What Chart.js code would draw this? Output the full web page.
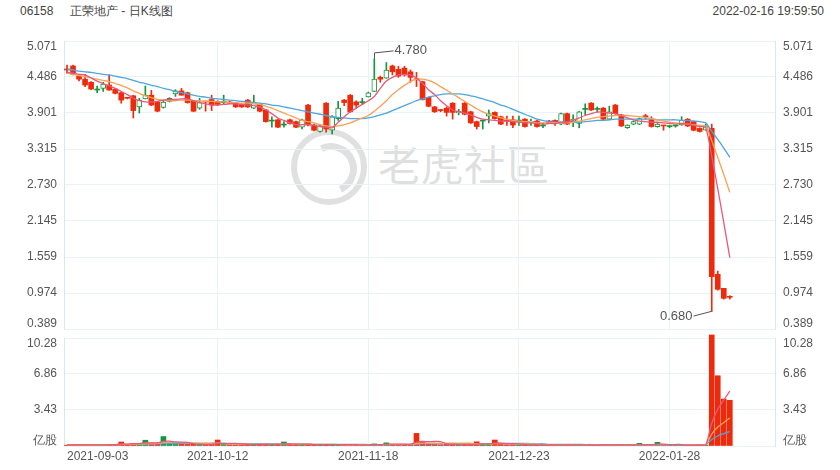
<!DOCTYPE html>
<html><head><meta charset="utf-8">
<script src="https://cdn.jsdelivr.net/npm/chart.js@4/dist/chart.umd.min.js"></script>
<style>
html,body{margin:0;padding:0;background:#fff;width:840px;height:470px;overflow:hidden;}
#wrap{position:relative;width:840px;height:470px;font-family:"Liberation Sans",Arial,sans-serif;}
.hdr{position:absolute;top:4px;font-size:12px;line-height:14px;color:#444;white-space:nowrap;}
#logo{position:absolute;left:291px;top:129px;width:64px;height:64px;border:6px solid #e0e0e0;border-radius:50%;}
#logo:after{content:"";position:absolute;left:8px;top:8px;width:38px;height:38px;border:7px solid #e0e0e0;border-color:#e0e0e0 #e0e0e0 transparent transparent;border-radius:50%;transform:rotate(20deg);}
#wm{position:absolute;left:378px;top:142px;font-family:"Noto Sans CJK TC","Noto Sans CJK SC",sans-serif;font-size:42px;line-height:42px;color:#dfdfdf;letter-spacing:1px;}
canvas{position:absolute;left:0;}
</style></head><body>
<div id="wrap">
  <div class="hdr" style="left:20px">06158</div>
  <div class="hdr" style="left:70px">正荣地产 - 日K线图</div>
  <div class="hdr" style="right:16px">2022-02-16 19:59:50</div>
  <div id="logo"></div>
  <div id="wm">老虎社區</div>
  <canvas id="price" width="840" height="360" style="top:0"></canvas>
  <canvas id="vol" width="840" height="160" style="top:310px"></canvas>
</div>
<script>
// ---- data ----
const tickDates = ['2021-09-03','2021-10-12','2021-11-18','2021-12-23','2022-01-28'];
const tickSlots = [0,25,50,75,100];
const totalSlots = 118;
const priceTicks = [0.389,0.974,1.559,2.145,2.730,3.315,3.901,4.486,5.071];
const priceTickLabels = ['0.389','0.974','1.559','2.145','2.730','3.315','3.901','4.486','5.071'];
const volTicks = [0,3.43,6.86,10.28];
const volTickLabels = ['亿股','3.43','6.86','10.28'];

const open = [
4.601,4.665,4.50,4.45,4.40,4.274,4.30,4.355,4.29,4.23,
4.141,4.18,4.00,4.13,4.19,4.08,3.99,4.09,4.21,4.26,
4.23,4.10,3.98,4.081,4.12,4.09,4.069,4.08,4.06,4.03,
4.11,3.98,4.04,3.95,3.769,3.79,3.704,3.79,3.76,3.67,
4.03,3.705,3.60,4.06,3.62,3.81,4.11,4.19,4.08,4.069,
4.16,4.25,4.48,4.465,4.665,4.61,4.63,4.57,4.441,4.41,
4.155,4.00,3.941,3.98,4.06,3.90,4.06,3.92,3.76,3.769,
3.85,3.91,3.84,3.771,3.79,3.769,3.80,3.75,3.77,3.689,
3.77,3.78,3.72,3.89,3.76,3.73,3.959,4.06,3.959,3.98,
3.80,4.03,3.87,3.66,3.72,3.72,3.841,3.79,3.68,3.691,
3.679,3.689,3.705,3.80,3.76,3.65,3.62,3.65,1.278,1.05,
0.905];
const high = [
4.68,4.68,4.53,4.53,4.41,4.34,4.40,4.52,4.30,4.24,
4.15,4.19,4.14,4.34,4.27,4.09,4.09,4.15,4.28,4.30,
4.24,4.10,4.14,4.09,4.19,4.10,4.19,4.09,4.07,4.04,
4.12,4.19,4.05,3.96,3.84,3.80,3.76,3.80,3.77,3.80,
4.04,3.72,3.70,4.07,3.86,4.09,4.12,4.20,4.10,4.14,
4.24,4.78,4.50,4.72,4.68,4.66,4.66,4.60,4.56,4.42,
4.16,4.01,3.96,4.00,4.07,3.96,4.07,3.93,3.77,3.78,
3.95,3.92,3.85,3.85,3.85,3.85,3.81,3.80,3.78,3.74,
3.78,3.79,3.90,3.90,3.87,3.93,4.05,4.07,4.00,3.99,
4.01,4.04,3.88,3.71,3.77,3.82,3.88,3.84,3.73,3.70,
3.70,3.70,3.84,3.81,3.77,3.66,3.72,3.72,1.33,1.05,
0.93];
const low = [
4.55,4.52,4.42,4.33,4.28,4.23,4.25,4.27,4.21,4.06,
4.13,3.82,3.90,4.13,4.02,3.92,3.98,4.08,4.17,4.19,
4.06,3.92,3.96,3.93,3.94,4.02,4.05,4.05,3.99,3.99,
3.99,3.97,3.92,3.75,3.67,3.66,3.67,3.72,3.66,3.64,
3.69,3.61,3.59,3.59,3.56,3.78,4.02,3.91,3.99,4.05,
4.16,4.25,4.40,4.465,4.52,4.48,4.50,4.40,4.33,4.11,
4.00,3.91,3.92,3.85,3.80,3.87,3.87,3.73,3.64,3.64,
3.74,3.80,3.71,3.70,3.66,3.70,3.67,3.70,3.67,3.66,
3.73,3.70,3.71,3.71,3.68,3.66,3.87,3.94,3.91,3.79,
3.79,3.88,3.68,3.65,3.71,3.71,3.80,3.67,3.67,3.62,
3.66,3.67,3.70,3.68,3.61,3.59,3.62,0.68,1.02,0.875,
0.875];
const close = [
4.60,4.53,4.45,4.355,4.29,4.275,4.37,4.274,4.22,4.11,
4.14,3.94,4.11,4.19,4.03,3.93,4.08,4.14,4.26,4.19,
4.07,3.93,4.07,4.08,4.03,4.04,4.07,4.06,4.00,4.00,
4.00,4.08,3.93,3.76,3.77,3.67,3.705,3.73,3.67,3.79,
3.705,3.62,3.69,3.64,3.84,3.98,4.07,3.92,4.03,4.07,
4.23,4.45,4.45,4.60,4.57,4.50,4.52,4.48,4.44,4.12,
4.01,3.92,3.94,3.91,3.91,3.93,3.88,3.74,3.68,3.77,
3.89,3.81,3.72,3.77,3.705,3.77,3.68,3.77,3.68,3.69,
3.74,3.74,3.89,3.72,3.80,3.92,3.96,3.95,3.96,3.80,
3.92,3.89,3.69,3.705,3.76,3.81,3.84,3.68,3.72,3.69,
3.68,3.69,3.78,3.69,3.62,3.60,3.68,1.24,1.034,0.888,
0.904];
const ma5 = [
4.56,4.55,4.53,4.52,4.47,4.42,4.38,4.34,4.30,4.25,
4.20,4.14,4.10,4.08,4.08,4.09,4.11,4.12,4.12,4.13,
4.13,4.10,4.07,4.05,4.03,4.03,4.04,4.05,4.05,4.04,
4.03,4.02,4.00,3.95,3.89,3.82,3.78,3.74,3.71,3.71,
3.71,3.70,3.68,3.67,3.66,3.75,3.84,3.92,3.98,4.04,
4.10,4.17,4.30,4.42,4.48,4.52,4.53,4.52,4.47,4.38,
4.28,4.20,4.10,4.02,3.95,3.92,3.90,3.87,3.83,3.80,
3.79,3.78,3.77,3.77,3.76,3.75,3.74,3.74,3.73,3.72,
3.73,3.73,3.75,3.75,3.78,3.82,3.86,3.89,3.92,3.91,
3.90,3.89,3.86,3.82,3.79,3.77,3.76,3.75,3.75,3.74,
3.73,3.72,3.73,3.72,3.70,3.68,3.66,3.20,2.67,2.12,
1.55];
const ma10 = [
4.55,4.53,4.51,4.49,4.47,4.45,4.43,4.41,4.38,4.35,
4.31,4.26,4.22,4.18,4.15,4.12,4.11,4.10,4.10,4.11,
4.11,4.10,4.10,4.09,4.09,4.08,4.08,4.07,4.07,4.06,
4.06,4.05,4.04,4.01,3.98,3.94,3.90,3.86,3.82,3.78,
3.76,3.74,3.71,3.69,3.68,3.69,3.71,3.74,3.78,3.82,
3.86,3.93,4.01,4.10,4.20,4.28,4.35,4.41,4.45,4.45,
4.43,4.39,4.33,4.27,4.21,4.15,4.09,4.03,3.97,3.92,
3.88,3.85,3.82,3.80,3.78,3.77,3.76,3.75,3.74,3.74,
3.74,3.74,3.74,3.74,3.75,3.77,3.79,3.81,3.83,3.84,
3.85,3.86,3.86,3.86,3.85,3.84,3.83,3.81,3.79,3.77,
3.75,3.74,3.73,3.72,3.71,3.70,3.69,3.45,3.18,2.90,
2.61];
const ma20 = [
4.61,4.60,4.58,4.57,4.56,4.545,4.53,4.52,4.50,4.48,
4.46,4.43,4.40,4.38,4.35,4.33,4.30,4.28,4.25,4.23,
4.21,4.19,4.17,4.16,4.14,4.13,4.12,4.11,4.10,4.09,
4.08,4.07,4.06,4.05,4.03,4.02,4.00,3.98,3.96,3.94,
3.92,3.90,3.88,3.86,3.84,3.83,3.82,3.81,3.81,3.81,
3.82,3.84,3.87,3.90,3.94,3.98,4.02,4.06,4.10,4.13,
4.16,4.18,4.20,4.21,4.21,4.21,4.20,4.18,4.16,4.13,
4.10,4.07,4.03,4.00,3.96,3.92,3.88,3.84,3.80,3.78,
3.76,3.75,3.75,3.75,3.75,3.75,3.76,3.77,3.78,3.78,
3.79,3.80,3.80,3.80,3.80,3.80,3.80,3.80,3.79,3.79,
3.79,3.79,3.78,3.78,3.77,3.76,3.74,3.60,3.47,3.33,
3.18];
const vol = [
0.08,0.10,0.12,0.10,0.12,0.10,0.12,0.15,0.12,0.38,
0.15,0.25,0.20,0.55,0.30,0.25,0.90,0.35,0.15,0.20,
0.15,0.20,0.15,0.12,0.15,0.57,0.15,0.12,0.10,0.12,
0.15,0.15,0.12,0.20,0.12,0.15,0.38,0.12,0.15,0.12,
0.15,0.12,0.10,0.15,0.12,0.15,0.10,0.12,0.10,0.10,
0.12,0.20,0.15,0.30,0.15,0.12,0.15,0.15,1.20,0.45,
0.20,0.15,0.12,0.15,0.12,0.10,0.15,0.12,0.40,0.15,
0.12,0.57,0.15,0.12,0.12,0.10,0.12,0.10,0.10,0.08,
0.10,0.10,0.12,0.10,0.08,0.10,0.10,0.10,0.08,0.10,
0.10,0.10,0.12,0.08,0.08,0.25,0.08,0.10,0.35,0.10,
0.08,0.08,0.10,0.10,0.10,0.10,0.10,10.57,6.69,4.47,
4.35];
const vma5 = [
0.10,0.10,0.10,0.10,0.10,0.11,0.11,0.12,0.12,0.17,
0.18,0.21,0.22,0.31,0.29,0.31,0.44,0.47,0.39,0.37,
0.35,0.21,0.17,0.16,0.15,0.24,0.23,0.22,0.22,0.21,
0.13,0.13,0.13,0.15,0.15,0.15,0.19,0.19,0.18,0.18,
0.18,0.13,0.13,0.13,0.13,0.13,0.13,0.13,0.12,0.11,
0.11,0.13,0.13,0.17,0.18,0.18,0.17,0.17,0.35,0.43,
0.42,0.43,0.42,0.21,0.15,0.13,0.13,0.13,0.18,0.19,
0.19,0.27,0.28,0.22,0.22,0.21,0.12,0.11,0.11,0.10,
0.10,0.10,0.10,0.10,0.10,0.10,0.10,0.10,0.09,0.10,
0.10,0.10,0.10,0.10,0.10,0.13,0.13,0.13,0.17,0.18,
0.14,0.14,0.14,0.09,0.09,0.10,0.10,2.17,3.50,4.38,
5.23];
const vma10 = [
0.12,0.12,0.12,0.12,0.12,0.12,0.12,0.12,0.12,0.14,
0.15,0.16,0.17,0.21,0.23,0.24,0.32,0.34,0.34,0.33,
0.31,0.30,0.26,0.26,0.24,0.27,0.20,0.19,0.18,0.17,
0.17,0.17,0.16,0.17,0.16,0.15,0.17,0.17,0.16,0.16,
0.16,0.16,0.16,0.15,0.15,0.14,0.12,0.12,0.12,0.12,
0.12,0.13,0.13,0.14,0.15,0.15,0.15,0.15,0.24,0.27,
0.28,0.28,0.28,0.28,0.28,0.28,0.27,0.27,0.19,0.19,
0.18,0.22,0.22,0.22,0.22,0.21,0.20,0.19,0.15,0.14,
0.11,0.11,0.11,0.10,0.10,0.10,0.10,0.10,0.10,0.10,
0.10,0.10,0.10,0.10,0.10,0.11,0.11,0.11,0.14,0.14,
0.13,0.13,0.13,0.13,0.13,0.12,0.12,1.14,1.80,2.24,
2.66];
const vma20 = [
0.14,0.14,0.14,0.14,0.14,0.14,0.14,0.14,0.14,0.15,
0.15,0.16,0.16,0.18,0.19,0.20,0.23,0.24,0.24,0.24,
0.24,0.25,0.25,0.25,0.26,0.28,0.26,0.25,0.24,0.23,
0.23,0.23,0.22,0.21,0.21,0.20,0.19,0.19,0.18,0.18,
0.17,0.16,0.16,0.16,0.16,0.16,0.15,0.15,0.15,0.15,
0.14,0.14,0.14,0.14,0.14,0.14,0.14,0.14,0.19,0.21,
0.21,0.21,0.21,0.21,0.22,0.22,0.22,0.22,0.23,0.23,
0.22,0.24,0.24,0.24,0.24,0.24,0.24,0.23,0.21,0.21,
0.16,0.15,0.15,0.15,0.15,0.15,0.14,0.14,0.12,0.12,
0.11,0.11,0.11,0.10,0.10,0.11,0.11,0.11,0.12,0.12,
0.12,0.12,0.12,0.12,0.12,0.12,0.12,0.62,0.95,1.17,
1.38];

// ---- styling ----
const RED = '#ee2a0c', GREEN = '#13963c';
const PINK = '#e8587d', ORANGE = '#f7a253', BLUE = '#4ea6de';
const GRID = '#e8f2f8', BORDER = '#d8e8f2', TICK = '#555';
const FONT = {family:'"Liberation Sans", Arial, sans-serif', size:12};
const slots = Array.from({length: totalSlots}, (_, i) => i);
const isUp = i => close[i] > open[i];
const cColor = i => isUp(i) ? GREEN : RED;
const hollow = i => isUp(i) && Math.abs(close[i] - open[i]) > 0.01;
const idx = open.map((_, i) => i);

const xGrid = {
  offset: false, drawTicks: false,
  color: c => (tickSlots.indexOf(c.index) > 0 ? GRID : 'rgba(0,0,0,0)')
};
function shiftEnds(labels){
  return (v, i, arr) => {
    const t = labels[i];
    if (i === arr.length - 1) return ['', t];
    if (i === 0) return [t, ''];
    return t;
  };
}
function yAxis(pos, vals, labels, min, max, grid){
  return {
    position: pos, min, max,
    afterBuildTicks: s => { s.ticks = vals.map(v => ({value: v})); },
    afterFit: s => { s.width = pos === 'left' ? 64 : 65; },
    ticks: {color: TICK, font: Object.assign({}, FONT, {lineHeight: 0.9}), padding: pos === 'left' ? 7 : 8,
            callback: shiftEnds(labels), autoSkip: false},
    grid: grid ? {color: GRID, drawTicks: false} : {drawOnChartArea: false, drawTicks: false},
    border: {color: BORDER}
  };
}

const marks = {
  id: 'marks',
  afterDatasetsDraw(chart){
    const {ctx, scales: {x, y}} = chart;
    const hi = Math.max(...high), lo = Math.min(...low);
    const hiI = high.indexOf(hi), loI = low.indexOf(lo);
    ctx.save();
    ctx.strokeStyle = '#555'; ctx.fillStyle = '#555'; ctx.lineWidth = 1;
    ctx.font = '13px "Liberation Sans", Arial, sans-serif';
    ctx.textBaseline = 'middle';
    let px = Math.round(x.getPixelForValue(hiI)) + 0.5, py = y.getPixelForValue(hi);
    ctx.beginPath(); ctx.moveTo(px, py); ctx.lineTo(px, py - 6); ctx.lineTo(px + 19, py - 8); ctx.stroke();
    ctx.textAlign = 'left'; ctx.fillText(hi.toFixed(3), px + 20, py - 8);
    px = Math.round(x.getPixelForValue(loI)) + 0.5; py = y.getPixelForValue(lo);
    ctx.beginPath(); ctx.moveTo(px, py); ctx.lineTo(px - 19, py + 5); ctx.stroke();
    ctx.textAlign = 'right'; ctx.fillText(lo.toFixed(3), px - 20, py + 5);
    ctx.restore();
  }
};

const lineDs = (label, data, color) => ({type: 'line', label, data, borderColor: color, borderWidth: 1.3,
  pointRadius: 0, tension: 0.25, order: 1, yAxisID: 'y'});

new Chart(document.getElementById('price'), {
  type: 'bar',
  data: {
    labels: slots,
    datasets: [
      lineDs('MA5', ma5, PINK), lineDs('MA10', ma10, ORANGE), lineDs('MA20', ma20, BLUE),
      {label: 'body', data: idx.map(i => [open[i], close[i]]), yAxisID: 'y',
       backgroundColor: idx.map(i => hollow(i) ? '#ffffff' : cColor(i)),
       borderColor: idx.map(i => cColor(i)), borderWidth: idx.map(i => hollow(i) ? 1 : 0),
       borderSkipped: false, barThickness: 5, minBarLength: 1, grouped: false, order: 2},
      {label: 'wick', data: idx.map(i => [low[i], high[i]]), yAxisID: 'y',
       backgroundColor: idx.map(i => cColor(i)), barThickness: 1, grouped: false, order: 3}
    ]
  },
  options: {
    responsive: false, animation: false, devicePixelRatio: 1,
    layout: {padding: {top: 41, bottom: 31, left: 0, right: 0}},
    plugins: {legend: {display: false}, tooltip: {enabled: false}},
    scales: {
      x: {type: 'category', offset: true, grid: xGrid, border: {display: false},
          ticks: {display: false, autoSkip: false}, afterFit: s => { s.height = 0; }},
      y: yAxis('left', priceTicks, priceTickLabels, 0.389, 5.071, true),
      y2: yAxis('right', priceTicks, priceTickLabels, 0.389, 5.071, false)
    }
  },
  plugins: [marks]
});

const vLine = (label, data, color) => ({type: 'line', label, data, borderColor: color, borderWidth: 1.3,
  pointRadius: 0, tension: 0.25, order: 1, yAxisID: 'y'});

new Chart(document.getElementById('vol'), {
  type: 'bar',
  data: {
    labels: slots,
    datasets: [
      vLine('VMA5', vma5, PINK), vLine('VMA10', vma10, ORANGE), vLine('VMA20', vma20, BLUE),
      {label: 'vol', data: vol, yAxisID: 'y', backgroundColor: idx.map(i => cColor(i)),
       barThickness: 5, grouped: false, order: 2, clip: false}
    ]
  },
  options: {
    responsive: false, animation: false, devicePixelRatio: 1,
    layout: {padding: {top: 28, bottom: 0, left: 0, right: 0}},
    plugins: {legend: {display: false}, tooltip: {enabled: false}},
    scales: {
      x: {type: 'category', offset: true, grid: xGrid, border: {display: false},
          afterFit: s => { s.height = 24; },
          ticks: {color: TICK, font: FONT, padding: 3, autoSkip: false, maxRotation: 0, minRotation: 0,
                  align: 'inner',
                  callback: (v, i) => { const k = tickSlots.indexOf(i); return k >= 0 ? tickDates[k] : ''; }}},
      y: yAxis('left', volTicks, volTickLabels, 0, 10.28, true),
      y2: yAxis('right', volTicks, volTickLabels, 0, 10.28, false)
    }
  }
});
</script>
</body></html>
